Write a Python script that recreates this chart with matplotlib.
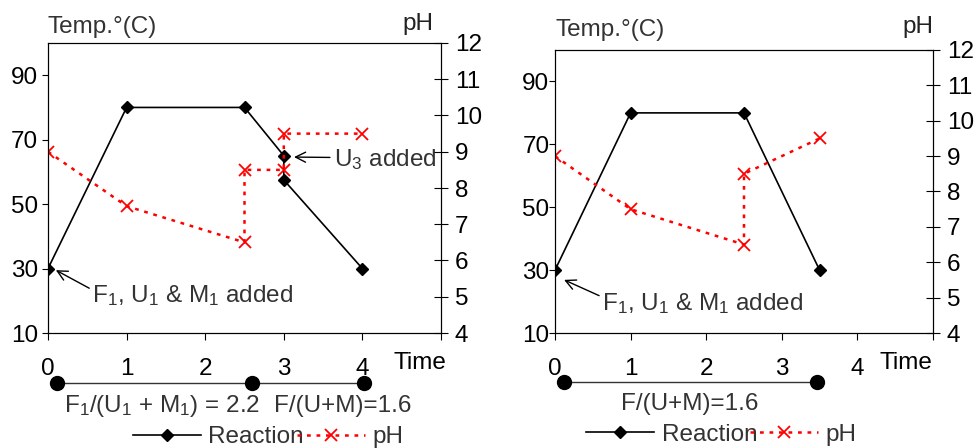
import numpy as np
import matplotlib
matplotlib.use("Agg")
import matplotlib.pyplot as plt
import matplotlib.transforms as mtransforms

plt.rcParams['font.family'] = ['Liberation Sans', 'DejaVu Sans']
plt.rcParams['mathtext.default'] = 'regular'
FS = 17.5

# Left chart data
left_time = [0, 1, 2.5, 3, 3, 4]
left_temp = [30, 80, 80, 65, 57.5, 30]
left_ph_time = [0, 1, 2.5, 2.5, 3, 3, 4]
left_ph = [9, 7.5, 6.5, 8.5, 8.5, 9.5, 9.5]
left_stage_times = [0.12, 2.6, 4.02]
left_stage_labels = [r'F$_1$/(U$_1$ + M$_1$) = 2.2', 'F/(U+M)=1.6']
left_stage_label_x = [1.45, 3.75]

# Right chart data
right_time = [0, 1, 2.5, 3.5]
right_temp = [30, 80, 80, 30]
right_ph_time = [0, 1, 2.5, 2.5, 3.5]
right_ph = [9, 7.5, 6.5, 8.5, 9.5]
right_stage_times = [0.12, 3.47]
right_stage_labels = ['F/(U+M)=1.6']
right_stage_label_x = [1.78]

temp_ticks = [10, 30, 50, 70, 90]
ph_ticks = list(range(4, 13))
time_ticks = [0, 1, 2, 3, 4, 5]
time_labels = ['0', '1', '2', '3', '4', '']

W, H = 974, 448
fig = plt.figure(figsize=(W / 100, H / 100), dpi=100)


def make_panel(rect, t, temp, pht, ph, stages, stage_labels, stage_x,
               temp_pad, leg_x, time_x, ph_x, temp_label_y):
    ax = fig.add_axes(rect)
    ax2 = ax.twinx()
    ax.set_xlim(0, 5)
    ax.set_ylim(10, 100)
    ax2.set_ylim(4, 12)
    ax.set_xticks(time_ticks)
    ax.set_xticklabels(time_labels)
    ax.set_yticks(temp_ticks)
    ax2.set_yticks(ph_ticks)
    ax.tick_params(axis='x', direction='out', length=5, pad=13, labelsize=FS)
    ax.tick_params(axis='y', direction='out', length=4, pad=temp_pad, labelsize=FS)
    ax2.tick_params(axis='y', direction='inout', length=10, pad=5, labelsize=FS)

    l1, = ax.plot(t, temp, color='black', lw=1.2, marker='D', ms=6.5,
                  label='Reaction', zorder=3)
    l2, = ax2.plot(pht, ph, color='red', lw=1.8, ls=(0, (1.5, 2.3)),
                   marker='x', ms=8, mew=1.3, label='pH', zorder=2)

    trans = mtransforms.blended_transform_factory(ax.transData, ax.transAxes)
    ax.plot(stages, [-0.172] * len(stages), color='#333333', lw=1,
            marker='o', ms=10, mfc='black', mec='black',
            transform=trans, clip_on=False)
    for lab, x in zip(stage_labels, stage_x):
        ax.text(x, -0.25, lab, transform=trans, ha='center', va='center',
                color='#333333', fontsize=FS)

    ax.text(0, temp_label_y, 'Temp.°(C)', transform=ax.transAxes,
            ha='left', va='center', color='#333333', fontsize=FS)
    ax.text(ph_x, temp_label_y + 0.01, 'pH', transform=ax.transAxes,
            ha='right', va='center', color='#222222', fontsize=FS)
    ax.text(time_x, -0.105, 'Time', transform=ax.transAxes,
            ha='center', va='center', color='black', fontsize=FS)

    leg = ax2.legend([l1, l2], ['Reaction', 'pH'], loc='center',
                     bbox_to_anchor=(leg_x, -0.36), ncol=2, frameon=False,
                     handlelength=2.8, handletextpad=0.3, columnspacing=-0.3,
                     fontsize=FS, borderaxespad=0)
    for txt in leg.get_texts():
        txt.set_color('#333333')
    return ax


axL = make_panel([48 / W, 115 / H, 393 / W, 290 / H],
                 left_time, left_temp, left_ph_time, left_ph,
                 left_stage_times, left_stage_labels, left_stage_label_x,
                 3, 0.56, 0.947, 0.98, 1.055)
axR = make_panel([555 / W, 115 / H, 378 / W, 283 / H],
                 right_time, right_temp, right_ph_time, right_ph,
                 right_stage_times, right_stage_labels, right_stage_label_x,
                 0, 0.44, 0.929, 1.0, 1.07)

arrow = dict(arrowstyle='->', color='black', lw=1, mutation_scale=18)
axL.annotate(r'F$_1$, U$_1$ & M$_1$ added', xy=(0.1, 29.5), xytext=(0.56, 21.5),
             ha='left', va='center', color='#333333', fontsize=FS,
             arrowprops=dict(arrow, relpos=(0, 0.75), shrinkA=0, shrinkB=0))
axL.annotate(r'U$_3$ added', xy=(3.13, 64.6), xytext=(3.64, 63.7),
             ha='left', va='center', color='#333333', fontsize=FS,
             arrowprops=dict(arrow, relpos=(0, 0.6), shrinkA=1, shrinkB=0))
axR.annotate(r'F$_1$, U$_1$ & M$_1$ added', xy=(0.12, 26.9), xytext=(0.62, 19.5),
             ha='left', va='center', color='#333333', fontsize=FS,
             arrowprops=dict(arrow, relpos=(0, 0.75), shrinkA=0, shrinkB=0))

fig.savefig('out.png', dpi=100)
